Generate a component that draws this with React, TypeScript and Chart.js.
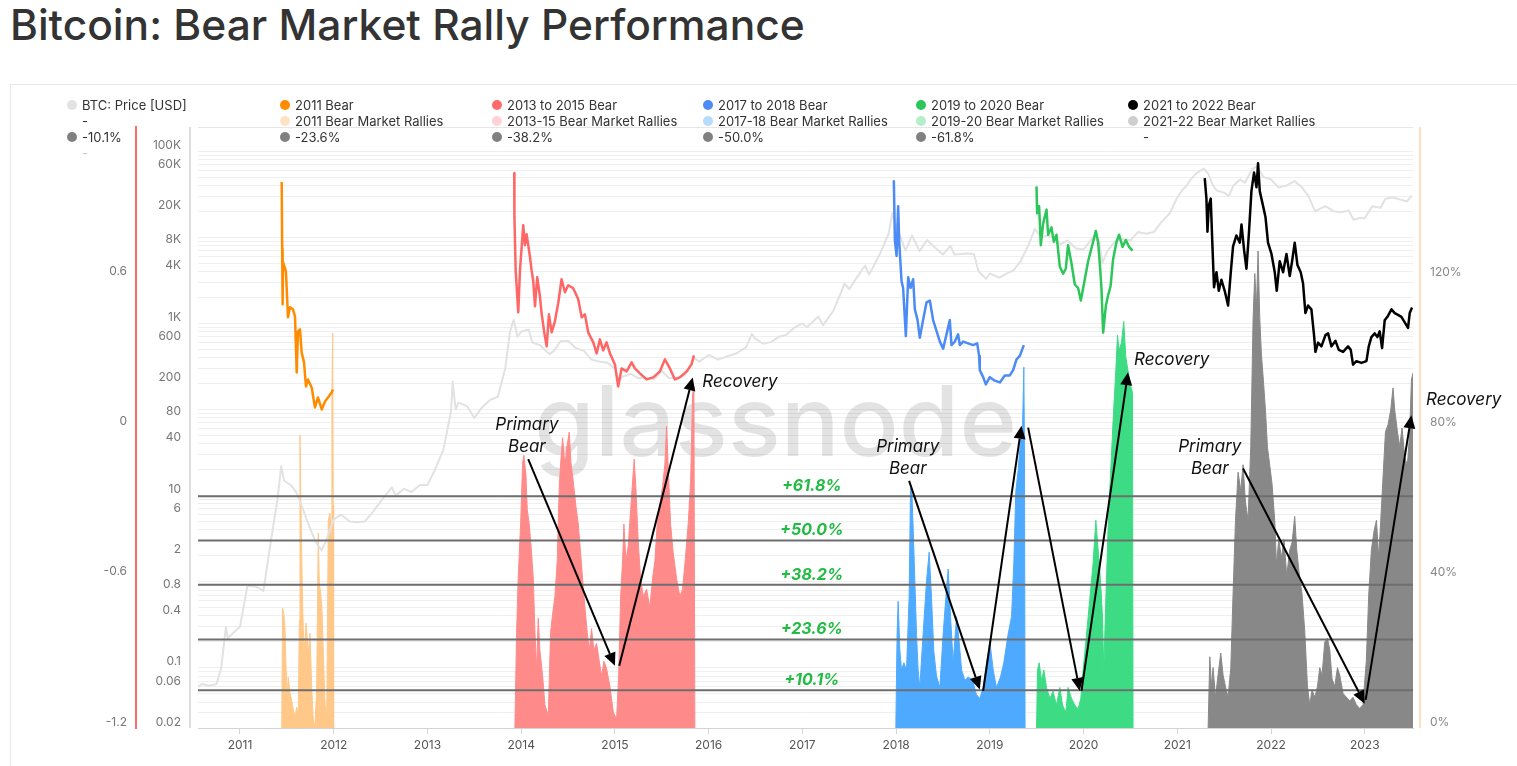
import React, { useEffect, useRef } from "react";
import { Chart, registerables } from "chart.js";

Chart.register(...registerables);

// ---------------- BTC price (USD, log axis) ----------------
const priceYears = [
  2010.55, 2010.6, 2010.67, 2010.75, 2010.8, 2010.85, 2010.87, 2010.92,
  2011.0, 2011.08, 2011.17, 2011.25, 2011.33, 2011.4, 2011.44, 2011.47, 2011.55, 2011.6, 2011.65, 2011.72, 2011.8, 2011.87, 2011.92,
  2012.0, 2012.08, 2012.17, 2012.25, 2012.33, 2012.42, 2012.5, 2012.62, 2012.66, 2012.75, 2012.83, 2012.92,
  2013.0, 2013.08, 2013.17, 2013.25, 2013.27, 2013.3, 2013.33, 2013.42, 2013.5, 2013.58, 2013.67, 2013.75, 2013.83, 2013.88, 2013.92, 2013.96,
  2014.0, 2014.08, 2014.12, 2014.2, 2014.3, 2014.35, 2014.42, 2014.5, 2014.58, 2014.67, 2014.75, 2014.83, 2014.92,
  2015.0, 2015.04, 2015.08, 2015.17, 2015.25, 2015.33, 2015.42, 2015.5, 2015.58, 2015.67, 2015.75, 2015.84, 2015.9,
  2016.0, 2016.1, 2016.2, 2016.3, 2016.4, 2016.46, 2016.5, 2016.58, 2016.67, 2016.75, 2016.83, 2016.92,
  2017.0, 2017.05, 2017.17, 2017.22, 2017.33, 2017.42, 2017.45, 2017.5, 2017.58, 2017.67, 2017.71, 2017.75, 2017.83, 2017.92, 2017.96,
  2018.0, 2018.1, 2018.17, 2018.25, 2018.33, 2018.42, 2018.5, 2018.58, 2018.62, 2018.75, 2018.83, 2018.88, 2018.96,
  2019.0, 2019.1, 2019.2, 2019.25, 2019.33, 2019.42, 2019.48, 2019.55, 2019.62, 2019.67, 2019.75, 2019.83, 2019.92,
  2020.0, 2020.1, 2020.17, 2020.2, 2020.25, 2020.33, 2020.42, 2020.5, 2020.58, 2020.67, 2020.75, 2020.83, 2020.92,
  2021.0, 2021.05, 2021.1, 2021.15, 2021.2, 2021.28, 2021.33, 2021.38, 2021.42, 2021.5, 2021.55, 2021.6, 2021.67, 2021.72, 2021.8, 2021.85, 2021.92,
  2022.0, 2022.08, 2022.17, 2022.25, 2022.33, 2022.4, 2022.47, 2022.58, 2022.67, 2022.75, 2022.83, 2022.88, 2022.95,
  2023.0, 2023.08, 2023.17, 2023.22, 2023.3, 2023.4, 2023.45, 2023.5,
];
const priceUsd = [
  0.06, 0.065, 0.062, 0.065, 0.1, 0.3, 0.22, 0.25,
  0.3, 0.9, 0.88, 0.78, 3.0, 9.0, 22, 15, 13, 11, 8, 5, 3.0, 2.3, 3.0,
  5.3, 6.0, 5.0, 4.9, 5.0, 6.5, 8.5, 12.5, 10.0, 12.0, 11.0, 13.3,
  13.3, 20, 34, 93, 210, 100, 120, 110, 80, 105, 130, 140, 300, 800, 1100, 700,
  800, 850, 600, 560, 440, 480, 620, 630, 520, 480, 380, 360, 350,
  300, 210, 240, 260, 230, 235, 225, 280, 230, 235, 250, 400, 360,
  430, 380, 415, 450, 530, 750, 660, 580, 610, 700, 740, 900,
  1000, 900, 1200, 950, 1400, 2400, 2900, 2500, 3400, 4700, 3700, 4400, 6500, 11000, 19000,
  14000, 7000, 10500, 6900, 9300, 7500, 6300, 8000, 6300, 6500, 6400, 4000, 3300,
  3800, 3400, 3900, 4100, 5300, 8500, 12500, 10000, 10500, 10000, 8300, 9200, 7400,
  7200, 10000, 8700, 5000, 6800, 8800, 9500, 9200, 11500, 11000, 11500, 15000, 19000,
  29000, 35000, 40000, 48000, 55000, 63000, 55000, 40000, 35000, 33000, 30000, 40000, 47000, 43000, 62000, 67000, 50000,
  47000, 38000, 40000, 45000, 38000, 30000, 20000, 23000, 20000, 19500, 20500, 16000, 16800,
  16600, 23000, 22000, 28000, 29000, 27000, 26000, 30500,
];

// ---------------- Bear market paths (left axis) ----------------
const bear2011Years = [2011.445, 2011.45, 2011.455, 2011.459, 2011.49, 2011.5, 2011.512, 2011.533, 2011.565, 2011.587, 2011.605, 2011.619, 2011.64, 2011.658, 2011.683, 2011.704, 2011.725, 2011.765, 2011.8, 2011.832, 2011.872, 2011.907, 2011.939, 2011.978, 2011.992];
const bear2011Values = [0.98, 0.712, 0.492, 0.66, 0.624, 0.54, 0.44, 0.48, 0.472, 0.444, 0.22, 0.384, 0.392, 0.3, 0.26, 0.164, 0.192, 0.16, 0.08, 0.12, 0.072, 0.104, 0.12, 0.14, 0.152];

const bear2013Years = [2013.926, 2013.928, 2013.941, 2013.969, 2013.987, 2014.022, 2014.04, 2014.058, 2014.093, 2014.111, 2014.129, 2014.147, 2014.171, 2014.2, 2014.218, 2014.246, 2014.272, 2014.296, 2014.325, 2014.36, 2014.395, 2014.431, 2014.467, 2014.502, 2014.555, 2014.609, 2014.645, 2014.68, 2014.715, 2014.769, 2014.805, 2014.84, 2014.875, 2014.911, 2014.947, 2015.0, 2015.035, 2015.071, 2015.125, 2015.178, 2015.213, 2015.267, 2015.338, 2015.409, 2015.48, 2015.533, 2015.587, 2015.64, 2015.693, 2015.765, 2015.818, 2015.843];
const bear2013Values = [1.016, 0.844, 0.628, 0.46, 0.628, 0.808, 0.728, 0.772, 0.684, 0.628, 0.584, 0.484, 0.6, 0.524, 0.456, 0.38, 0.324, 0.452, 0.38, 0.424, 0.496, 0.592, 0.54, 0.568, 0.556, 0.512, 0.44, 0.452, 0.38, 0.34, 0.296, 0.352, 0.308, 0.34, 0.296, 0.252, 0.164, 0.236, 0.224, 0.26, 0.236, 0.216, 0.192, 0.2, 0.224, 0.272, 0.236, 0.192, 0.2, 0.224, 0.252, 0.288];

const bear2017Years = [2017.976, 2017.987, 2018.005, 2018.022, 2018.033, 2018.058, 2018.075, 2018.104, 2018.129, 2018.154, 2018.182, 2018.2, 2018.229, 2018.253, 2018.288, 2018.325, 2018.36, 2018.395, 2018.431, 2018.467, 2018.502, 2018.538, 2018.573, 2018.591, 2018.627, 2018.662, 2018.68, 2018.715, 2018.769, 2018.822, 2018.865, 2018.886, 2018.893, 2018.929, 2018.957, 2019.0, 2019.053, 2019.107, 2019.16, 2019.213, 2019.249, 2019.285, 2019.32, 2019.363];
const bear2017Values = [0.987, 0.749, 0.685, 0.884, 0.742, 0.585, 0.557, 0.365, 0.6, 0.557, 0.592, 0.472, 0.429, 0.358, 0.429, 0.5, 0.507, 0.429, 0.386, 0.343, 0.315, 0.372, 0.429, 0.329, 0.343, 0.372, 0.329, 0.343, 0.336, 0.329, 0.336, 0.286, 0.229, 0.201, 0.172, 0.201, 0.187, 0.18, 0.208, 0.208, 0.229, 0.272, 0.286, 0.329];

const bear2019Years = [2019.498, 2019.505, 2019.526, 2019.544, 2019.568, 2019.605, 2019.622, 2019.658, 2019.683, 2019.711, 2019.747, 2019.782, 2019.811, 2019.835, 2019.871, 2019.907, 2019.942, 2019.971, 2020.003, 2020.049, 2020.102, 2020.131, 2020.155, 2020.173, 2020.191, 2020.209, 2020.238, 2020.262, 2020.288, 2020.315, 2020.352, 2020.379, 2020.416, 2020.451, 2020.486, 2020.522];
const bear2019Values = [0.963, 0.856, 0.884, 0.728, 0.813, 0.87, 0.77, 0.799, 0.742, 0.77, 0.642, 0.614, 0.635, 0.728, 0.656, 0.571, 0.557, 0.507, 0.571, 0.664, 0.742, 0.785, 0.742, 0.656, 0.557, 0.379, 0.486, 0.528, 0.564, 0.671, 0.742, 0.77, 0.721, 0.749, 0.721, 0.706];

const bear2021Years = [2021.293, 2021.311, 2021.322, 2021.336, 2021.357, 2021.371, 2021.392, 2021.418, 2021.443, 2021.471, 2021.506, 2021.542, 2021.571, 2021.595, 2021.631, 2021.667, 2021.685, 2021.713, 2021.738, 2021.763, 2021.791, 2021.819, 2021.845, 2021.862, 2021.88, 2021.915, 2021.941, 2021.968, 2022.005, 2022.04, 2022.061, 2022.093, 2022.129, 2022.165, 2022.2, 2022.225, 2022.253, 2022.282, 2022.317, 2022.342, 2022.367, 2022.395, 2022.431, 2022.459, 2022.474, 2022.502, 2022.538, 2022.581, 2022.609, 2022.645, 2022.688, 2022.723, 2022.769, 2022.822, 2022.851, 2022.875, 2022.911, 2022.965, 2023.018, 2023.043, 2023.071, 2023.107, 2023.135, 2023.16, 2023.185, 2023.213, 2023.242, 2023.285, 2023.32, 2023.355, 2023.391, 2023.427, 2023.462, 2023.48, 2023.505];
const bear2021Values = [0.996, 0.914, 0.782, 0.885, 0.914, 0.767, 0.56, 0.62, 0.546, 0.59, 0.546, 0.487, 0.62, 0.723, 0.767, 0.738, 0.811, 0.708, 0.634, 0.767, 0.944, 1.018, 0.959, 1.055, 0.944, 0.885, 0.841, 0.738, 0.693, 0.62, 0.546, 0.664, 0.62, 0.693, 0.605, 0.664, 0.738, 0.649, 0.62, 0.575, 0.457, 0.487, 0.472, 0.369, 0.302, 0.339, 0.324, 0.369, 0.376, 0.324, 0.346, 0.31, 0.302, 0.324, 0.31, 0.251, 0.265, 0.258, 0.265, 0.324, 0.361, 0.376, 0.361, 0.384, 0.317, 0.428, 0.442, 0.472, 0.457, 0.45, 0.442, 0.42, 0.398, 0.457, 0.479];

// ---------------- Bear market rallies (% , right axis) ----------------
const rally2011Years = [2011.445, 2011.455, 2011.469, 2011.48, 2011.49, 2011.504, 2011.515, 2011.533, 2011.551, 2011.569, 2011.587, 2011.605, 2011.622, 2011.633, 2011.64, 2011.647, 2011.658, 2011.669, 2011.683, 2011.704, 2011.718, 2011.729, 2011.747, 2011.765, 2011.782, 2011.8, 2011.818, 2011.835, 2011.846, 2011.861, 2011.875, 2011.889, 2011.907, 2011.925, 2011.942, 2011.96, 2011.974, 2011.981, 2011.989, 2011.995, 2011.999];
const rally2011Pct = [0, 31.9, 30.1, 26.9, 17.3, 8.3, 13.6, 9.3, 7.5, 4.8, 2.9, 5.6, 4.0, 28.8, 78.1, 64.3, 46.7, 32.3, 20.0, 28.0, 23.5, 20.0, 25.3, 10.9, 2.1, 0.3, 10.9, 52.0, 38.7, 36.0, 31.5, 20.0, 6.7, 2.1, 55.5, 57.3, 50.9, 90.1, 105.3, 59.5, 0];

const rally2013Years = [2013.933, 2013.951, 2013.968, 2013.994, 2014.015, 2014.029, 2014.051, 2014.065, 2014.086, 2014.111, 2014.129, 2014.147, 2014.165, 2014.182, 2014.2, 2014.229, 2014.253, 2014.289, 2014.314, 2014.335, 2014.36, 2014.385, 2014.406, 2014.421, 2014.442, 2014.467, 2014.485, 2014.513, 2014.531, 2014.555, 2014.584, 2014.609, 2014.634, 2014.655, 2014.68, 2014.705, 2014.726, 2014.751, 2014.776, 2014.805, 2014.833, 2014.858, 2014.883, 2014.912, 2014.947, 2014.983, 2015.018, 2015.04, 2015.061, 2015.082, 2015.096, 2015.118, 2015.142, 2015.168, 2015.189, 2015.206, 2015.224, 2015.249, 2015.274, 2015.302, 2015.338, 2015.373, 2015.402, 2015.427, 2015.451, 2015.48, 2015.509, 2015.533, 2015.551, 2015.569, 2015.594, 2015.622, 2015.658, 2015.693, 2015.722, 2015.75, 2015.782, 2015.808, 2015.829, 2015.843, 2015.853];
const rally2013Pct = [0, 25.5, 39.9, 54.4, 70.7, 72.7, 67.5, 58.2, 54.4, 46.7, 39.9, 25.5, 15.8, 29.3, 20.7, 13.9, 6.2, 3.3, 25.5, 30.3, 35.1, 44.7, 64.0, 70.7, 77.4, 69.8, 74.6, 78.9, 70.7, 65.9, 59.2, 54.4, 46.7, 39.9, 32.2, 25.5, 20.7, 26.5, 20.7, 22.6, 17.8, 13.9, 17.8, 15.8, 11.0, 4.3, 2.3, 13.9, 35.1, 44.7, 54.4, 44.7, 48.6, 58.2, 65.9, 71.7, 64.0, 49.6, 39.9, 35.1, 37.0, 32.2, 39.9, 44.7, 54.4, 59.7, 64.5, 70.3, 80.5, 69.4, 54.4, 46.7, 39.9, 35.1, 37.0, 44.7, 54.4, 65.9, 89.1, 91.0, 0];

const rally2017Years = [2017.997, 2018.011, 2018.022, 2018.04, 2018.058, 2018.083, 2018.111, 2018.139, 2018.154, 2018.168, 2018.182, 2018.2, 2018.218, 2018.235, 2018.253, 2018.288, 2018.325, 2018.353, 2018.378, 2018.402, 2018.431, 2018.467, 2018.502, 2018.531, 2018.556, 2018.581, 2018.609, 2018.645, 2018.673, 2018.699, 2018.734, 2018.769, 2018.816, 2018.858, 2018.893, 2018.929, 2018.965, 2019.0, 2019.036, 2019.071, 2019.114, 2019.149, 2019.195, 2019.232, 2019.256, 2019.277, 2019.302, 2019.327, 2019.349, 2019.363, 2019.37, 2019.376];
const rally2017Pct = [0, 25.6, 33.8, 20.8, 15.5, 17.4, 15.5, 34.8, 64.0, 63.0, 53.5, 39.3, 25.0, 15.5, 10.8, 25.0, 39.3, 46.9, 34.8, 20.6, 13.9, 10.8, 25.0, 34.8, 42.4, 29.7, 17.4, 29.7, 23.0, 15.5, 12.7, 13.6, 12.7, 8.9, 7.9, 10.8, 17.4, 23.1, 15.5, 10.8, 13.6, 17.4, 25.0, 29.7, 43.9, 63.0, 68.7, 76.3, 80.1, 96.2, 72.5, 0];

const rally2019Years = [2019.498, 2019.509, 2019.526, 2019.552, 2019.576, 2019.605, 2019.64, 2019.675, 2019.711, 2019.747, 2019.776, 2019.811, 2019.835, 2019.871, 2019.907, 2019.942, 2019.971, 2019.996, 2020.032, 2020.067, 2020.102, 2020.131, 2020.155, 2020.181, 2020.202, 2020.216, 2020.238, 2020.262, 2020.288, 2020.315, 2020.344, 2020.362, 2020.379, 2020.404, 2020.429, 2020.451, 2020.475, 2020.501, 2020.522, 2020.528];
const rally2019Pct = [0, 15.5, 17.4, 12.7, 15.5, 10.8, 7.9, 9.8, 6.1, 10.8, 6.1, 4.2, 10.8, 7.9, 6.1, 5.1, 7.9, 15.5, 25.0, 34.5, 44.0, 55.4, 47.8, 39.3, 29.7, 15.5, 34.5, 53.4, 67.6, 81.9, 95.2, 104.7, 100.8, 102.7, 108.4, 98.9, 95.2, 91.4, 89.5, 0];

const rally2021Years = [2021.329, 2021.347, 2021.365, 2021.382, 2021.408, 2021.435, 2021.464, 2021.489, 2021.514, 2021.542, 2021.571, 2021.595, 2021.621, 2021.649, 2021.677, 2021.702, 2021.727, 2021.755, 2021.784, 2021.809, 2021.827, 2021.845, 2021.862, 2021.88, 2021.898, 2021.919, 2021.941, 2021.962, 2021.987, 2022.011, 2022.04, 2022.058, 2022.083, 2022.111, 2022.139, 2022.168, 2022.2, 2022.225, 2022.253, 2022.275, 2022.303, 2022.331, 2022.36, 2022.389, 2022.413, 2022.438, 2022.467, 2022.496, 2022.52, 2022.545, 2022.573, 2022.602, 2022.627, 2022.651, 2022.68, 2022.709, 2022.733, 2022.769, 2022.805, 2022.84, 2022.875, 2022.911, 2022.947, 2022.981, 2023.017, 2023.043, 2023.071, 2023.099, 2023.125, 2023.149, 2023.171, 2023.196, 2023.221, 2023.249, 2023.277, 2023.302, 2023.32, 2023.349, 2023.373, 2023.398, 2023.427, 2023.455, 2023.48, 2023.498, 2023.515];
const rally2021Pct = [0, 19.0, 11.1, 16.1, 8.2, 14.1, 20.0, 14.1, 11.1, 8.2, 16.1, 35.7, 55.4, 68.2, 63.3, 70.2, 60.3, 55.4, 75.1, 109.4, 121.2, 112.3, 127.2, 109.4, 99.5, 92.6, 84.7, 74.9, 70.0, 65.1, 55.3, 43.5, 50.3, 45.4, 50.3, 40.6, 47.5, 49.5, 56.4, 47.5, 40.6, 35.7, 25.9, 11.1, 6.2, 10.2, 8.2, 11.1, 16.1, 14.1, 22.9, 23.9, 20.9, 13.1, 11.1, 16.1, 14.1, 9.2, 8.2, 7.2, 8.2, 6.2, 5.2, 6.2, 18.0, 35.7, 47.5, 52.5, 55.4, 45.4, 55.4, 67.2, 79.0, 80.9, 84.8, 90.7, 84.8, 79.0, 75.1, 80.0, 72.1, 70.1, 79.0, 92.8, 94.7];

// ---------------- Retracement levels ----------------
const levelValues = [10.1, 23.6, 38.2, 50.0, 61.8];
const levelLabels = ["+10.1%", "+23.6%", "+38.2%", "+50.0%", "+61.8%"];

// ---------------- Axis tick labels ----------------
const priceTickValues = [100000, 60000, 20000, 8000, 4000, 1000, 600, 200, 80, 40, 10, 6, 2, 0.8, 0.4, 0.1, 0.06, 0.02];
const priceTickLabels = ["100K", "60K", "20K", "8K", "4K", "1K", "600", "200", "80", "40", "10", "6", "2", "0.8", "0.4", "0.1", "0.06", "0.02"];
const rallyTickValues = [0, 40, 80, 120];
const drawdownTickValues = [-1.2, -0.6, 0, 0.6];

// ---------------- Annotations (data coordinates: year, rally %) ----------------
const arrowsFrom = [
  [2014.075, 71.7], [2015.046, 16.6],
  [2018.139, 65.9], [2018.929, 9.9], [2019.409, 80.1], [2019.978, 9.9],
  [2021.702, 69.2], [2023.01, 7.5],
];
const arrowsTo = [
  [2015.0, 16.6], [2015.83, 93.5],
  [2018.893, 10.3], [2019.338, 80.6], [2019.96, 9.9], [2020.475, 94.9],
  [2023.0, 6.5], [2023.498, 83.4],
];
const noteTexts = ["Primary", "Bear", "Recovery", "Primary", "Bear", "Recovery", "Primary", "Bear", "Recovery"];
const noteYears = [2014.061, 2014.061, 2016.333, 2018.125, 2018.125, 2020.941, 2021.347, 2021.347, 2024.056];
const notePct = [80.8, 74.9, 92.3, 74.9, 69.1, 98.1, 74.9, 69.1, 87.5];

const X_MIN = 2010.552;
const X_MAX = 2023.515;

const zip = (xs: number[], ys: number[]) => xs.map((x, i) => ({ x, y: ys[i] }));

const FONT = "Inter, 'Noto Sans', sans-serif";

type LegendItem = { label: string; color: string | null; faint?: boolean };
const legendRows: LegendItem[][] = [
  [
    { label: "BTC: Price [USD]", color: "#e3e3e3" },
    { label: "2011 Bear", color: "#ff8c00" },
    { label: "2013 to 2015 Bear", color: "#ff6b6b" },
    { label: "2017 to 2018 Bear", color: "#4c8bf5" },
    { label: "2019 to 2020 Bear", color: "#2cc65a" },
    { label: "2021 to 2022 Bear", color: "#000000" },
  ],
  [
    { label: "-", color: null },
    { label: "2011 Bear Market Rallies", color: "#ffe2c4" },
    { label: "2013-15 Bear Market Rallies", color: "#ffd3d3" },
    { label: "2017-18 Bear Market Rallies", color: "#b5dcff" },
    { label: "2019-20 Bear Market Rallies", color: "#b3efcb" },
    { label: "2021-22 Bear Market Rallies", color: "#cfcfcf" },
  ],
  [
    { label: "-10.1%", color: "#808080" },
    { label: "-23.6%", color: "#808080" },
    { label: "-38.2%", color: "#808080" },
    { label: "-50.0%", color: "#808080" },
    { label: "-61.8%", color: "#808080" },
    { label: "-", color: null },
  ],
  [{ label: "-", color: null, faint: true }],
];
const legendColX = [82, 295, 507, 718, 931, 1143];
const legendRowY = [105, 121, 137, 153];

function drawArrow(ctx: CanvasRenderingContext2D, x1: number, y1: number, x2: number, y2: number) {
  const ang = Math.atan2(y2 - y1, x2 - x1);
  const head = 13;
  const half = 6;
  const bx = x2 - head * Math.cos(ang);
  const by = y2 - head * Math.sin(ang);
  ctx.beginPath();
  ctx.moveTo(x1, y1);
  ctx.lineTo(bx, by);
  ctx.stroke();
  ctx.beginPath();
  ctx.moveTo(x2, y2);
  ctx.lineTo(bx + half * Math.sin(ang), by - half * Math.cos(ang));
  ctx.lineTo(bx - half * Math.sin(ang), by + half * Math.cos(ang));
  ctx.closePath();
  ctx.fill();
}

const decorPlugin = {
  id: "decor",
  beforeDatasetsDraw(chart: any) {
    const { ctx, chartArea: a } = chart;
    ctx.save();
    ctx.font = `500 98px ${FONT}`;
    ctx.fillStyle = "rgba(0,0,0,0.11)";
    ctx.textAlign = "center";
    ctx.textBaseline = "alphabetic";
    ctx.fillText("glassnode", (a.left + a.right) / 2 - 30, (a.top + a.bottom) / 2 + 28);
    ctx.restore();
  },
  afterDatasetsDraw(chart: any) {
    const { ctx } = chart;
    const xs = chart.scales.x;
    const ys = chart.scales.yRally;
    ctx.save();
    ctx.strokeStyle = "#000";
    ctx.fillStyle = "#000";
    ctx.lineWidth = 2;
    arrowsFrom.forEach((f, i) => {
      const t = arrowsTo[i];
      drawArrow(ctx, xs.getPixelForValue(f[0]), ys.getPixelForValue(f[1]), xs.getPixelForValue(t[0]), ys.getPixelForValue(t[1]));
    });
    ctx.font = `italic 17px ${FONT}`;
    ctx.textAlign = "center";
    ctx.textBaseline = "middle";
    ctx.fillStyle = "#111";
    noteTexts.forEach((txt, i) => {
      ctx.fillText(txt, xs.getPixelForValue(noteYears[i]), ys.getPixelForValue(notePct[i]));
    });
    ctx.font = `italic 700 16px ${FONT}`;
    ctx.fillStyle = "#22bb44";
    levelValues.forEach((v, i) => {
      ctx.fillText(levelLabels[i], xs.getPixelForValue(2017.1), ys.getPixelForValue(v) - 10);
    });
    ctx.restore();
  },
  afterDraw(chart: any) {
    const { ctx, chartArea: a } = chart;
    ctx.save();
    ctx.lineWidth = 1;
    ctx.strokeStyle = "#e6e6e6";
    ctx.beginPath();
    ctx.moveTo(a.left, a.top + 0.5);
    ctx.lineTo(a.right, a.top + 0.5);
    ctx.stroke();
    ctx.lineWidth = 2;
    ctx.strokeStyle = "#dcdcdc";
    ctx.beginPath();
    ctx.moveTo(a.left - 8, a.top);
    ctx.lineTo(a.left - 8, a.bottom);
    ctx.stroke();
    ctx.strokeStyle = "#ffe0bd";
    ctx.beginPath();
    ctx.moveTo(a.right + 7, a.top);
    ctx.lineTo(a.right + 7, a.bottom);
    ctx.stroke();
    ctx.restore();
  },
};

export default function App() {
  const canvasRef = useRef<HTMLCanvasElement>(null);

  useEffect(() => {
    if (!canvasRef.current) return;
    const gridValues: number[] = [];
    for (let k = -2; k <= 5; k++) {
      for (let n = 1; n <= 9; n++) {
        const v = Number((n * Math.pow(10, k)).toPrecision(3));
        if (v >= 0.02 && v <= 191000) gridValues.push(v);
      }
    }
    const labelFor = (v: number) => {
      const idx = priceTickValues.findIndex((t) => Math.abs(t - v) / t < 1e-6);
      return idx >= 0 ? priceTickLabels[idx] : "";
    };

    const bearSet = (label: string, xs: number[], ys: number[], color: string) => ({
      type: "line" as const,
      label,
      data: zip(xs, ys),
      yAxisID: "yDD",
      borderColor: color,
      borderWidth: 2.5,
      pointRadius: 0,
      tension: 0,
      order: 1,
    });
    const rallySet = (label: string, xs: number[], ys: number[], color: string) => ({
      type: "line" as const,
      label,
      data: zip(xs, ys),
      yAxisID: "yRally",
      borderColor: color,
      backgroundColor: color,
      borderWidth: 1,
      pointRadius: 0,
      tension: 0,
      fill: "origin",
      order: 5,
    });

    const chart = new Chart(canvasRef.current, {
      type: "line",
      data: {
        datasets: [
          bearSet("2011 Bear", bear2011Years, bear2011Values, "#ff8c00"),
          bearSet("2013 to 2015 Bear", bear2013Years, bear2013Values, "#ff6666"),
          bearSet("2017 to 2018 Bear", bear2017Years, bear2017Values, "#4c8bf5"),
          bearSet("2019 to 2020 Bear", bear2019Years, bear2019Values, "#2cc65a"),
          bearSet("2021 to 2022 Bear", bear2021Years, bear2021Values, "#000000"),
          ...levelValues.map((v, i) => ({
            type: "line" as const,
            label: "-" + levelLabels[i].slice(1),
            data: [{ x: X_MIN, y: v }, { x: X_MAX, y: v }],
            yAxisID: "yRally",
            borderColor: "#6e6e6e",
            borderWidth: 2,
            pointRadius: 0,
            order: 3,
          })),
          {
            type: "line" as const,
            label: "BTC: Price [USD]",
            data: zip(priceYears, priceUsd),
            yAxisID: "yPrice",
            borderColor: "#e2e2e2",
            borderWidth: 2,
            pointRadius: 0,
            tension: 0,
            order: 4,
          },
          rallySet("2011 Bear Market Rallies", rally2011Years, rally2011Pct, "#ffc889"),
          rallySet("2013-15 Bear Market Rallies", rally2013Years, rally2013Pct, "#ff8a8a"),
          rallySet("2017-18 Bear Market Rallies", rally2017Years, rally2017Pct, "#4eaaff"),
          rallySet("2019-20 Bear Market Rallies", rally2019Years, rally2019Pct, "#3ddc84"),
          rallySet("2021-22 Bear Market Rallies", rally2021Years, rally2021Pct, "#888888"),
        ] as any,
      },
      options: {
        responsive: false,
        maintainAspectRatio: false,
        animation: false,
        layout: { padding: { left: 10, right: 10, top: 127, bottom: 8 } },
        plugins: { legend: { display: false }, tooltip: { enabled: false } },
        elements: { line: { borderJoinStyle: "round" } },
        scales: {
          x: {
            type: "linear",
            min: X_MIN,
            max: X_MAX,
            afterFit: (s: any) => { s.height = 30; },
            ticks: {
              stepSize: 1,
              includeBounds: false,
              autoSkip: false,
              maxRotation: 0,
              padding: 4,
              color: "#555",
              font: { family: FONT, size: 12 },
              callback: (v: any) => String(Math.round(Number(v))),
            },
            grid: { drawOnChartArea: false, drawTicks: true, tickLength: 6, color: "#d4d4d4" },
            border: { display: true, color: "#d4d4d4" },
          },
          yDD: {
            type: "linear",
            position: "left",
            weight: 1,
            min: -1.2,
            max: 1.2,
            afterFit: (s: any) => { s.width = 126; },
            afterBuildTicks: (s: any) => { s.ticks = drawdownTickValues.map((v) => ({ value: v })); },
            ticks: {
              autoSkip: false,
              padding: 9,
              labelOffset: -6,
              color: "#777",
              font: { family: FONT, size: 12 },
              callback: (v: any) => {
                const n = Math.round(Number(v) * 10) / 10;
                return n === 0 ? "0" : String(n);
              },
            },
            grid: { display: false, drawTicks: false },
            border: { display: true, color: "#ff6b6b", width: 2 },
          },
          yPrice: {
            type: "logarithmic",
            position: "left",
            weight: 0,
            min: 0.02,
            max: 191000,
            afterFit: (s: any) => { s.width = 62; },
            afterBuildTicks: (s: any) => { s.ticks = gridValues.map((v) => ({ value: v })); },
            ticks: {
              autoSkip: false,
              padding: 17,
              labelOffset: -6,
              color: "#777",
              font: { family: FONT, size: 12 },
              callback: (v: any) => labelFor(Number(v)),
            },
            grid: { color: "#efefef", lineWidth: 1, drawTicks: false },
            border: { display: false },
          },
          yRally: {
            type: "linear",
            position: "right",
            min: 0,
            max: 160.27,
            afterFit: (s: any) => { s.width = 94; },
            afterBuildTicks: (s: any) => { s.ticks = rallyTickValues.map((v) => ({ value: v })); },
            ticks: {
              autoSkip: false,
              padding: 17,
              labelOffset: -6,
              color: "#888",
              font: { family: FONT, size: 12 },
              callback: (v: any) => `${Math.round(Number(v))}%`,
            },
            grid: { display: false, drawTicks: false },
            border: { display: false },
          },
        } as any,
      },
      plugins: [decorPlugin],
    });
    return () => chart.destroy();
  }, []);

  return (
    <div style={{ position: "absolute", left: 0, top: 0, width: 1517, height: 766, overflow: "hidden", background: "#fff", fontFamily: FONT }}>
      <div style={{ position: "absolute", left: 10, top: 0, fontSize: 42.5, fontWeight: 500, color: "#333", lineHeight: "50px", whiteSpace: "nowrap" }}>
        Bitcoin: Bear Market Rally Performance
      </div>
      <div style={{ position: "absolute", left: 10, top: 84, width: 1520, height: 700, borderTop: "1px solid #e8e8e8", borderLeft: "1px solid #e8e8e8" }} />
      <canvas ref={canvasRef} width={1517} height={766} style={{ position: "absolute", left: 0, top: 0, width: 1517, height: 766 }} />
      {legendRows.map((row, r) =>
        row.map((item, c) => (
          <div
            key={`${r}-${c}`}
            style={{
              position: "absolute",
              left: legendColX[c],
              top: legendRowY[r] - 8,
              height: 16,
              lineHeight: "16px",
              fontSize: 13,
              color: item.faint ? "#c8c8c8" : "#333",
              whiteSpace: "nowrap",
            }}
          >
            {item.color && (
              <span
                style={{
                  position: "absolute",
                  left: -15,
                  top: 3,
                  width: 10,
                  height: 10,
                  borderRadius: 5,
                  background: item.color,
                }}
              />
            )}
            {item.label}
          </div>
        ))
      )}
    </div>
  );
}
